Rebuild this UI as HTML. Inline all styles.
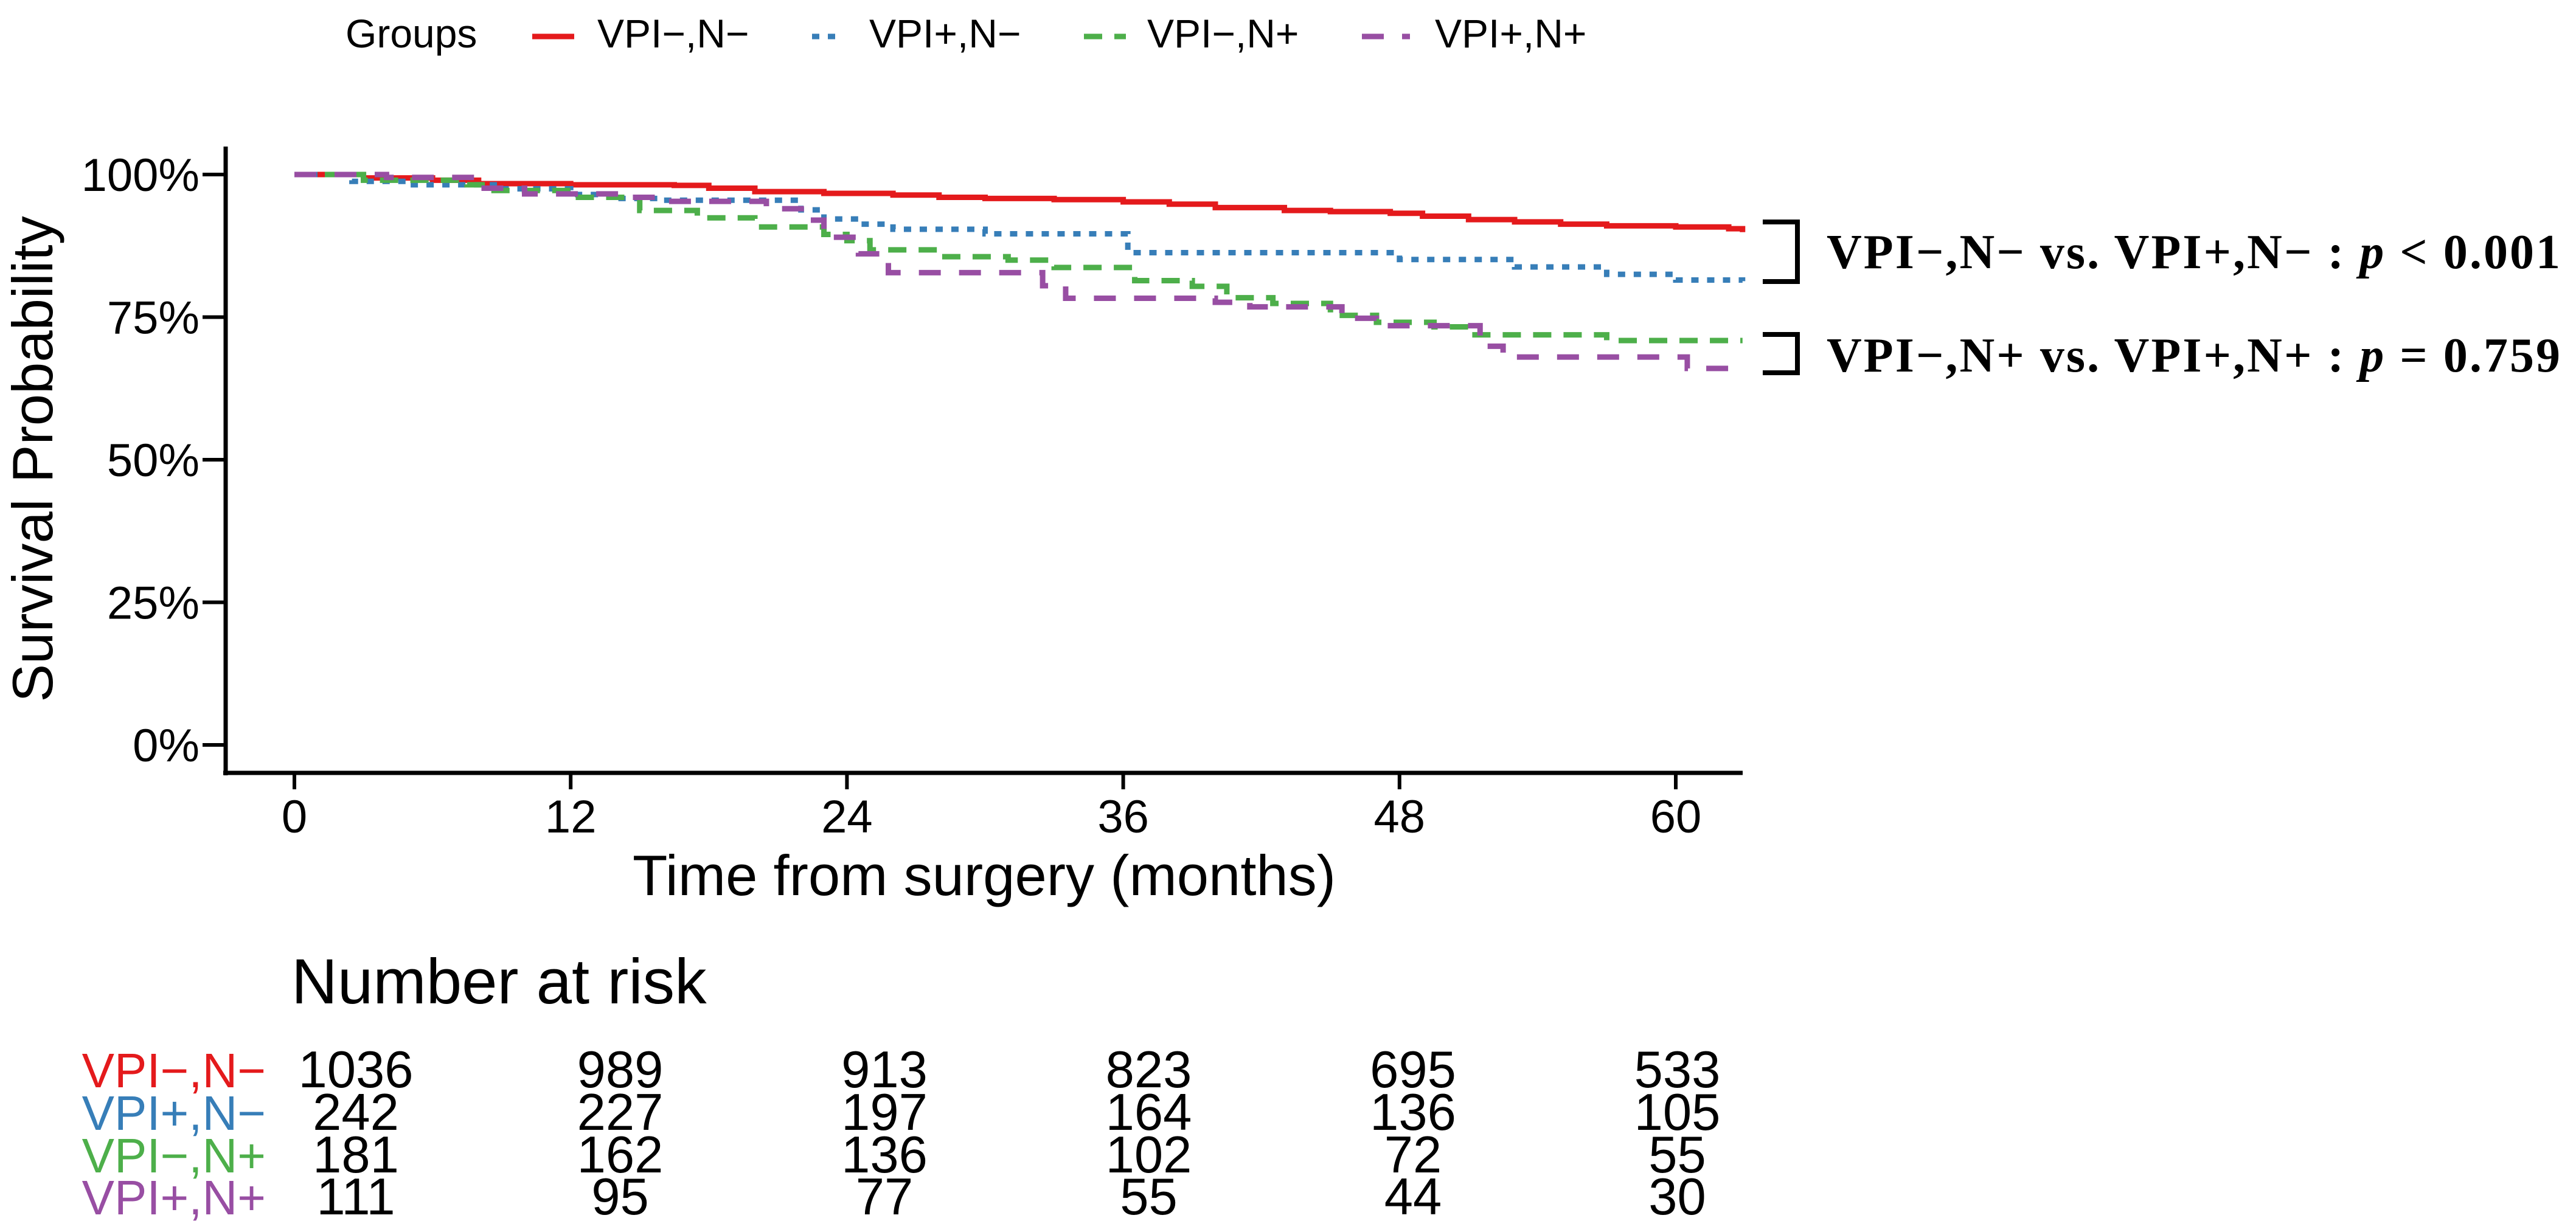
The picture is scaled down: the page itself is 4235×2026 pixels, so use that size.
<!DOCTYPE html>
<html><head><meta charset="utf-8"><style>
html,body{margin:0;padding:0;background:#fff;}
svg{display:block;font-family:"Liberation Sans",Arial,sans-serif;}
</style></head><body>
<svg id="chart" width="4235" height="2026" viewBox="0 0 4235 2026" xmlns="http://www.w3.org/2000/svg">
<g id="legend">
<text x="568" y="78" font-size="66">Groups</text>
<line x1="875" y1="60" x2="944" y2="60" stroke="#E41A1C" stroke-width="9"/>
<text x="982" y="78" font-size="66">VPI−,N−</text>
<line x1="1335" y1="60" x2="1380" y2="60" stroke="#377EB8" stroke-width="9" stroke-dasharray="12,14"/>
<text x="1429" y="78" font-size="66">VPI+,N−</text>
<line x1="1782" y1="60" x2="1851" y2="60" stroke="#4DAF4A" stroke-width="9" stroke-dasharray="30,20"/>
<text x="1886" y="78" font-size="66">VPI−,N+</text>
<line x1="2239" y1="60" x2="2318" y2="60" stroke="#984EA3" stroke-width="9" stroke-dasharray="36,30"/>
<text x="2359" y="78" font-size="66">VPI+,N+</text>
</g>
<g id="axes"></g>
<g id="curves"></g>
<text transform="translate(86,755) rotate(-90)" text-anchor="middle" font-size="94">Survival Probability</text>
<text x="1618" y="1472" text-anchor="middle" font-size="94">Time from surgery (months)</text>
<g>
<path d="M2898,365 H2955 V463 H2898" fill="none" stroke="#000" stroke-width="8"/>
<text x="3003" y="441" font-family="'Liberation Serif',serif" font-weight="bold" font-size="80" textLength="1206">VPI−,N− vs. VPI+,N− : <tspan font-style="italic">p</tspan> &lt; 0.001</text>
<path d="M2898,550 H2955 V613 H2898" fill="none" stroke="#000" stroke-width="8"/>
<text x="3003" y="611" font-family="'Liberation Serif',serif" font-weight="bold" font-size="80" textLength="1206">VPI−,N+ vs. VPI+,N+ : <tspan font-style="italic">p</tspan> = 0.759</text>
</g>
<text x="479" y="1650" font-size="105">Number at risk</text>
<g id="risk"></g>
</svg>
<script>
const NS="http://www.w3.org/2000/svg";
const groupNames=["VPI−,N−","VPI+,N−","VPI−,N+","VPI+,N+"];
const colors=["#E41A1C","#377EB8","#4DAF4A","#984EA3"];
const xTicks=[0,12,24,36,48,60];
const yTicks=[0,25,50,75,100];
const yTickLabels=["0%","25%","50%","75%","100%"];
const redT=[0,3,6,8,12,16.5,18,20,23,26,28,30,33,36,38,40,43,45,47.6,49,51,53,55,57,60,62.3,62.9];
const redS=[100,99.4,99,98.4,98.2,98.1,97.6,97,96.7,96.4,96,95.8,95.6,95.2,94.8,94.2,93.7,93.5,93.2,92.7,92.1,91.7,91.3,91,90.8,90.5,89.9];
const blueT=[0,2.5,5,9,12,14,16,22,23,24.5,26,30,36.2,48,53,57,60,62.9];
const blueS=[100,98.8,98.2,97.5,96.5,95.8,95.5,93.8,92.2,91.3,90.4,89.6,86.3,85.1,83.8,82.5,81.5,81.3];
const greenT=[0,3,7.5,8.5,12,15,17.5,20,23,24,25,28,31,33,36.5,39,40.5,42.5,45,47,49.5,51,57,62.9];
const greenS=[100,99,98.2,97.2,96,93.7,92.4,90.8,89.5,88.4,86.8,85.6,85,83.7,81.4,80.4,78.4,77.4,75.3,74.1,73.3,71.9,70.9,70.9];
const purpleT=[0,4,8,10,14.5,16,19,20.5,22.3,23,24.5,25.8,32.5,33.5,40,41.5,45.5,47,51.5,52.5,60.5,62.9];
const purpleS=[100,99.5,97.6,96.6,96,95.3,95.3,94,92,89,86.1,82.8,80.5,78.3,77.6,76.8,74.8,73.5,69.9,68,66,65.6];
const riskRows=[[1036,989,913,823,695,533],[242,227,197,164,136,105],[181,162,136,102,72,55],[111,95,77,55,44,30]];
const X0=484,PX_PER_MONTH=37.85,Y100=287,PX_PER_PCT=9.38;
function xs(t){return X0+t*PX_PER_MONTH;}
function ys(s){return Y100+(100-s)*PX_PER_PCT;}
function mk(tag,attrs,parent){const e=document.createElementNS(NS,tag);for(const k in attrs)e.setAttribute(k,attrs[k]);parent.appendChild(e);return e;}
const axes=document.getElementById('axes');
let ln=mk('line',{x1:371,y1:241,x2:371,y2:1275,stroke:'#000','stroke-width':7},axes);


ln=mk('line',{x1:367,y1:1271,x2:2865,y2:1271,stroke:'#000','stroke-width':7},axes);


yTicks.forEach((v,i)=>{
  const y=ys(v);
  const t=mk('line',{x1:333,y1:y,x2:371,y2:y,stroke:'#000','stroke-width':6},axes);
  
  
  const l=mk('text',{x:328,y:y+27,'text-anchor':'end','font-size':76},axes);
  l.textContent=yTickLabels[i];
  
  
});
xTicks.forEach(v=>{
  const x=xs(v);
  const t=mk('line',{x1:x,y1:1271,x2:x,y2:1298,stroke:'#000','stroke-width':6},axes);
  
  
  const l=mk('text',{x:x,y:1369,'text-anchor':'middle','font-size':76},axes);
  l.textContent=String(v);
  
  
});
const curves=document.getElementById('curves');
const series=[[redT,redS,'none','curve-vpi-neg-n-neg'],[blueT,blueS,'12,14','curve-vpi-pos-n-neg'],[greenT,greenS,'30,20','curve-vpi-neg-n-pos'],[purpleT,purpleS,'36,30','curve-vpi-pos-n-pos']];
series.forEach((s,i)=>{
  const T=s[0],S=s[1];
  let d='M'+xs(T[0])+','+ys(S[0]);
  for(let k=1;k<T.length;k++){d+=' H'+xs(T[k])+' V'+ys(S[k]);}
  const p=mk('path',{d:d,fill:'none',stroke:colors[i],'stroke-width':9},curves);
  if(s[2]!=='none')p.setAttribute('stroke-dasharray',s[2]);
  
  
});
const risk=document.getElementById('risk');
const rowBase=[1788,1858,1928,1997];
riskRows.forEach((row,r)=>{
  const l=mk('text',{x:437,y:rowBase[r],'text-anchor':'end','font-size':80,fill:colors[r]},risk);
  l.textContent=groupNames[r];
  
  
  row.forEach((v,c)=>{
    const t=mk('text',{x:585+c*434.5,y:rowBase[r],'text-anchor':'middle','font-size':85},risk);
    t.textContent=String(v);
    
    
  });
});
</script>
</body></html>
